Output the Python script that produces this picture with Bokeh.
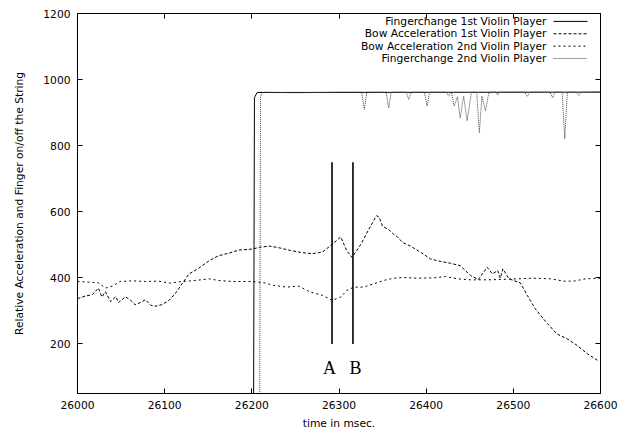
from bokeh.plotting import figure
from bokeh.models import Range1d, LinearAxis, FixedTicker, Label, Arrow, ColumnDataSource
from bokeh.core.properties import value
from bokeh.embed import file_html
from bokeh.resources import INLINE

FONT = "DejaVu Sans"
FS = "10.7px"

# ---- data ----
finger1_x = [26000, 26202, 26203, 26206, 26600]
finger1_y = [0, 0, 945, 961, 962]

finger2_x = [26000, 26209, 26210, 26213, 26250, 26300, 26326, 26329, 26332, 26354, 26357, 26360,
             26377, 26380, 26383, 26398, 26401, 26404, 26423, 26426, 26429, 26432, 26436, 26439,
             26443, 26447, 26452, 26458, 26461, 26464, 26468, 26472, 26480, 26482, 26484, 26513,
             26516, 26519, 26542, 26545, 26548, 26556, 26559, 26562, 26572, 26575, 26578, 26600]
finger2_y = [0, 0, 950, 962, 960, 962, 962, 910, 962, 962, 914, 962,
             962, 940, 962, 962, 920, 962, 962, 950, 962, 920, 948, 884,
             950, 875, 962, 962, 839, 950, 905, 962, 962, 953, 962, 962,
             949, 962, 962, 945, 962, 962, 821, 962, 962, 952, 962, 963]

bow1_x = [26000, 26009, 26017, 26024, 26028, 26032, 26038, 26044, 26047, 26055, 26061, 26066,
          26072, 26078, 26084, 26089, 26097, 26105, 26112, 26120, 26128, 26139, 26151, 26162,
          26174, 26185, 26200, 26210, 26221, 26233, 26244, 26256, 26269, 26281, 26292, 26302,
          26309, 26315, 26325, 26334, 26343, 26346, 26350, 26357, 26363, 26367, 26373, 26382,
          26394, 26405, 26416, 26428, 26439, 26451, 26460, 26470, 26476, 26482, 26485, 26488,
          26495, 26508, 26516, 26525, 26537, 26550, 26562, 26573, 26585, 26598]
bow1_y = [337, 345, 349, 369, 342, 358, 328, 343, 325, 343, 332, 319,
          325, 334, 317, 314, 319, 332, 352, 382, 412, 429, 452, 467,
          475, 484, 487, 493, 496, 490, 483, 477, 473, 478, 501, 524,
          481, 462, 501, 546, 588, 584, 556, 546, 531, 524, 507, 496,
          477, 457, 450, 444, 437, 407, 395, 432, 412, 422, 399, 427,
          397, 385, 347, 307, 268, 230, 215, 196, 170, 148]

bow2_x = [26000, 26013, 26024, 26032, 26040, 26049, 26063, 26078, 26093, 26105, 26120, 26135,
          26151, 26162, 26177, 26200, 26214, 26225, 26240, 26254, 26267, 26281, 26292, 26302,
          26309, 26317, 26328, 26340, 26351, 26363, 26374, 26390, 26409, 26422, 26436, 26451,
          26470, 26485, 26504, 26523, 26543, 26558, 26569, 26583, 26600]
bow2_y = [389, 387, 385, 369, 375, 389, 391, 389, 390, 384, 389, 392,
          397, 392, 389, 389, 385, 377, 372, 375, 357, 347, 332, 342,
          362, 372, 372, 382, 392, 399, 401, 399, 400, 404, 397, 394,
          394, 395, 397, 399, 397, 390, 390, 397, 399]

marker_x = [26292, 26316]
marker_label_x = [26289, 26319]
marker_labels = ["A", "B"]
marker_y0 = 200
marker_y1 = 750
marker_label_y = 128

x_ticks = [26000, 26100, 26200, 26300, 26400, 26500, 26600]
y_ticks = [200, 400, 600, 800, 1000, 1200]

series_names = ["Fingerchange 1st Violin Player", "Bow Acceleration 1st Violin Player",
                "Bow Acceleration 2nd Violin Player", "Fingerchange 2nd Violin Player"]

X0, X1, Y0, Y1 = 26000, 26600, 50, 1200

p = figure(width=631, height=432, x_range=Range1d(X0, X1), y_range=Range1d(Y0, Y1),
           output_backend="svg", toolbar_location=None,
           min_border_left=77, min_border_right=31, min_border_top=13, min_border_bottom=35)
p.background_fill_color = "white"
p.border_fill_color = "white"
p.xgrid.visible = False
p.ygrid.visible = False
p.outline_line_color = "black"
p.outline_line_width = 1

p.add_layout(LinearAxis(), "above")
p.add_layout(LinearAxis(), "right")

for ax in p.xaxis:
    ax.ticker = FixedTicker(ticks=x_ticks)
for ax in p.yaxis:
    ax.ticker = FixedTicker(ticks=y_ticks)

for ax in p.xaxis + p.yaxis:
    ax.major_tick_in = 5
    ax.major_tick_out = 0
    ax.minor_tick_in = 0
    ax.minor_tick_out = 0
    ax.axis_line_color = "black"
    ax.major_tick_line_color = "black"
    ax.major_label_text_font = FONT
    ax.major_label_text_font_size = FS
    ax.major_label_text_color = "black"
    ax.axis_label_text_font = FONT
    ax.axis_label_text_font_size = FS
    ax.axis_label_text_font_style = "normal"
    ax.axis_label_text_color = "black"

# mirror axes: ticks only, no labels drawn
for ax in (p.above[0], p.right[0]):
    ax.major_label_text_color = None
    ax.major_label_text_font_size = "1px"
    ax.major_label_standoff = 0

p.below[0].major_label_standoff = 7
p.below[0].axis_label = "time in msec."
p.below[0].axis_label_standoff = 5
p.left[0].major_label_standoff = 7
p.left[0].axis_label = "Relative Acceleration and Finger on/off the String"
p.left[0].axis_label_standoff = 14

styles = [
    dict(x=finger1_x, y=finger1_y, color="black", dash="solid", width=1),
    dict(x=bow1_x, y=bow1_y, color="black", dash="3 2", width=1),
    dict(x=bow2_x, y=bow2_y, color="black", dash="2 3", width=1),
    dict(x=finger2_x, y=finger2_y, color="#444444", dash="1 1", width=1),
]
for s in styles:
    p.line(s["x"], s["y"], line_color=s["color"], line_dash=s["dash"], line_width=s["width"])

# A / B markers
msrc = ColumnDataSource(dict(x=marker_x, y0=[marker_y0] * len(marker_x), y1=[marker_y1] * len(marker_x),
                             lx=marker_label_x, ly=[marker_label_y] * len(marker_x), t=marker_labels))
p.segment(x0="x", y0="y0", x1="x", y1="y1", source=msrc, line_color="black", line_width=1.6)
p.text(x="lx", y="ly", text="t", source=msrc, text_font=value("Liberation Serif"),
       text_font_size="18px", text_align="center", text_baseline="alphabetic", text_color="black")

# legend (text right, sample on the right, as in gnuplot)
def fx(px):
    return X0 + (px - 77) / 523.0 * (X1 - X0)

def fy(py):
    return Y0 + (397 - py) / 384.0 * (Y1 - Y0)

row_py = [21, 33.5, 46, 58.5]
for s, name, py in zip(styles, series_names, row_py):
    p.add_layout(Label(x=fx(546), y=fy(py), text=name, text_align="right", text_baseline="middle",
                       text_font=FONT, text_font_size=FS, text_color="black"))
    p.add_layout(Arrow(x_start=fx(553), y_start=fy(py), x_end=fx(587), y_end=fy(py), end=None,
                       line_color=s["color"], line_dash=s["dash"], line_width=s["width"]))

open("out.html", "w").write(file_html(p, INLINE))
